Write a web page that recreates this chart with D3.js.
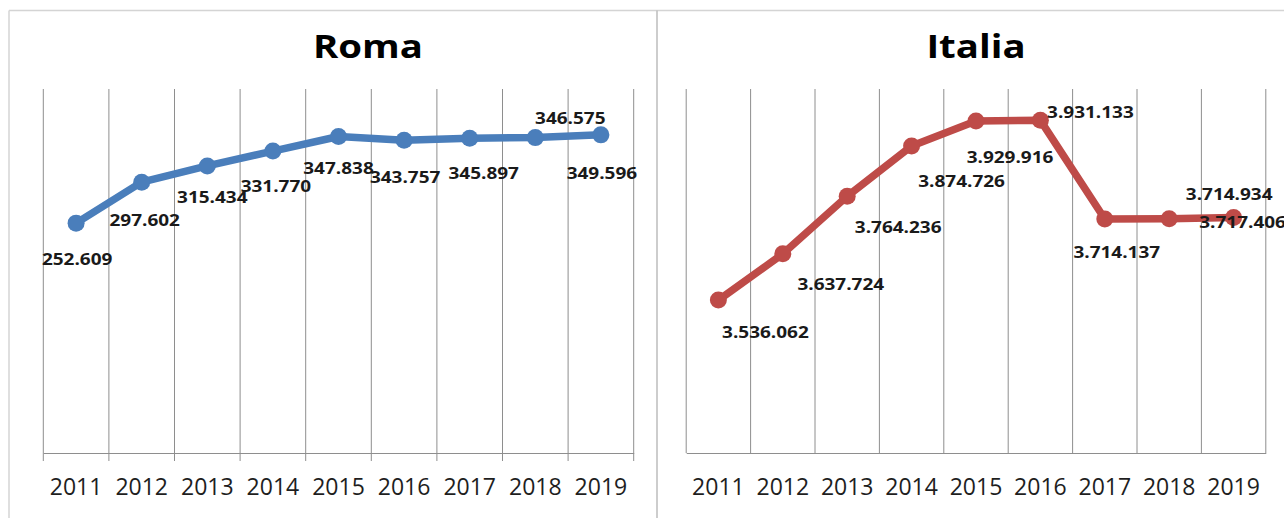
<!DOCTYPE html>
<html>
<head>
<meta charset="utf-8">
<script src="https://cdn.jsdelivr.net/npm/d3@7"></script>
<style>
  html, body { margin: 0; padding: 0; background: #fff; }
  svg { display: block; }
</style>
</head>
<body>
<svg id="chart" width="1284" height="518"></svg>
<script>
// ---- Data ----
const years = ["2011", "2012", "2013", "2014", "2015", "2016", "2017", "2018", "2019"];
const romaValues = [252609, 297602, 315434, 331770, 347838, 343757, 345897, 346575, 349596];
const italiaValues = [3536062, 3637724, 3764236, 3874726, 3929916, 3931133, 3714137, 3714934, 3717406];
const romaTitle = "Roma";
const italiaTitle = "Italia";

// ---- Layout / style config ----
const romaLabelOffsets = [[1, 36], [3, 38], [5, 31], [3, 35], [0, 32], [1, 37], [14, 35], [35, -20], [1, 38]];
const italiaLabelOffsets = [[47, 32], [58, 30], [51, 31], [50, 35], [34, 36], [50, -8], [12, 33], [60, -25], [9, 4]];

const fmt = d3.formatLocale({ decimal: ",", thousands: ".", grouping: [3], currency: ["€", ""] }).format(",d");

const svg = d3.select("#chart");

// frame
const frame = svg.append("g").attr("stroke", "#d4d4d4").attr("stroke-width", 1.5).attr("fill", "none");
frame.append("line").attr("x1", 9).attr("x2", 1284).attr("y1", 10.5).attr("y2", 10.5);
frame.append("line").attr("x1", 9).attr("x2", 9).attr("y1", 10.5).attr("y2", 518);
frame.append("line").attr("x1", 657).attr("x2", 657).attr("y1", 10.5).attr("y2", 518).attr("stroke", "#bdbdbd");

const panels = [
  { title: romaTitle, values: romaValues, color: "#4a7ebb", x0: 43.3, x1: 633.7, titleX: 368,
    domain: [0, 400000], ticks: true, offsets: romaLabelOffsets },
  { title: italiaTitle, values: italiaValues, color: "#be4b48", x0: 686.2, x1: 1265.8, titleX: 976,
    domain: [3200000, 4000000], ticks: false, offsets: italiaLabelOffsets }
];

const yTop = 89, yBottom = 453;

panels.forEach(p => {
  const g = svg.append("g");
  const x = d3.scaleBand().domain(years).range([p.x0, p.x1]).padding(0);
  const y = d3.scaleLinear().domain(p.domain).range([yBottom, yTop]);
  const cx = d => x(d) + x.bandwidth() / 2;

  // gridlines at category boundaries
  const bounds = years.map(d => x(d)).concat([p.x1]);
  g.selectAll("line.grid").data(bounds).join("line")
    .attr("class", "grid")
    .attr("x1", d => d).attr("x2", d => d)
    .attr("y1", yTop).attr("y2", p.ticks ? yBottom + 8 : yBottom)
    .attr("stroke", "#8e8e8e").attr("stroke-width", 1);

  // x axis
  const axis = g.append("g").attr("transform", `translate(0,${yBottom})`)
    .call(d3.axisBottom(x).tickSize(0).tickPadding(0));
  axis.select(".domain").attr("stroke", "#8e8e8e").attr("stroke-width", 1.2);
  axis.selectAll(".tick text")
    .attr("y", 42).attr("dy", null)
    .attr("font-family", "'Open Sans', sans-serif")
    .attr("font-size", 23)
    .attr("fill", "#1e1e1e");

  // title
  g.append("text")
    .attr("transform", `translate(${p.titleX},58) scale(1.2,1)`)
    .attr("text-anchor", "middle")
    .attr("font-family", "'Open Sans', sans-serif")
    .attr("font-weight", 700)
    .attr("font-size", 32)
    .attr("fill", "#000")
    .text(p.title);

  const pts = years.map((d, i) => ({ year: d, v: p.values[i], off: p.offsets[i] }));

  // line
  g.append("path")
    .datum(pts)
    .attr("fill", "none")
    .attr("stroke", p.color)
    .attr("stroke-width", 7.5)
    .attr("stroke-linejoin", "round")
    .attr("d", d3.line().x(d => cx(d.year)).y(d => y(d.v)));

  // markers
  g.selectAll("circle.m").data(pts).join("circle")
    .attr("class", "m")
    .attr("cx", d => cx(d.year)).attr("cy", d => y(d.v))
    .attr("r", 8.5)
    .attr("fill", p.color);

  // data labels
  g.selectAll("text.lbl").data(pts).join("text")
    .attr("class", "lbl")
    .attr("transform", d => `translate(${cx(d.year) + d.off[0]},${y(d.v) + d.off[1]}) scale(1.15,1)`)
    .attr("text-anchor", "middle")
    .attr("dy", "0.36em")
    .attr("font-family", "'Open Sans', sans-serif")
    .attr("font-weight", 700)
    .attr("font-size", 16.5)
    .attr("fill", "#1a1a1a")
    .text(d => fmt(d.v));
});
</script>
</body>
</html>
